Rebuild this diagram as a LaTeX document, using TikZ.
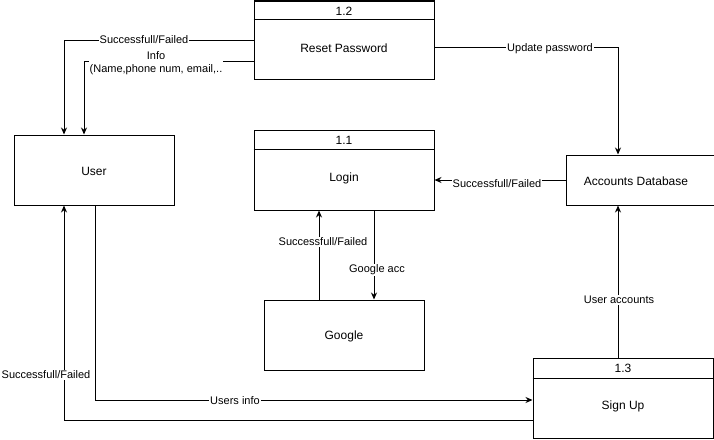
\documentclass[tikz,border=0pt]{standalone}
\usepackage{fontspec}
\setmainfont{Liberation Sans}
\usetikzlibrary{arrows.meta,calc}
\begin{document}
\begin{tikzpicture}[x=1pt,y=-1pt,
 box/.style={draw,line width=1pt,inner sep=0pt},
 divider/.style={draw,line width=1pt},
 flow/.style={draw,line width=1pt,-{Stealth[length=7pt,width=6pt]}},
 lbl/.style={fill=white,inner sep=1pt,font=\fontsize{11}{13}\selectfont,align=center},
 ttl/.style={font=\fontsize{12}{14}\selectfont}]
\useasboundingbox (0,0) rectangle (714,439);
% boxes
\node[box,minimum width=180pt,minimum height=78pt] (rp) at (344,40) {};
\draw[divider] ($(rp.north west)+(0,19)$) -- ($(rp.north east)+(0,19)$);
\node[ttl] (rpn) at ($(rp.north)+(0,11)$) {1.2};
\node[ttl] (rpt) at ($(rp.center)+(0,8)$) {Reset Password};

\node[box,minimum width=180pt,minimum height=80pt] (login) at (344,170) {};
\draw[divider] ($(login.north west)+(0,20)$) -- ($(login.north east)+(0,20)$);
\node[ttl] (loginn) at ($(login.north)+(0,11)$) {1.1};
\node[ttl] (logint) at ($(login.center)+(0,8)$) {Login};

\node[box,minimum width=180pt,minimum height=80pt] (signup) at (623,398) {};
\draw[divider] ($(signup.north west)+(0,21)$) -- ($(signup.north east)+(0,21)$);
\node[ttl] (signupn) at ($(signup.north)+(0,11)$) {1.3};
\node[ttl] (signupt) at ($(signup.center)+(0,8)$) {Sign Up};

\node[box,minimum width=160pt,minimum height=70pt] (user) at (94,170) {};
\node[ttl] (usert) at ($(user.center)+(0,1)$) {User};

\node[box,minimum width=160pt,minimum height=70pt] (google) at (344,335) {};
\node[ttl] (googlet) at ($(google.center)+(0,1)$) {Google};

\node[box,minimum width=160pt,minimum height=50pt] (db) at (646,180) {};
\node[ttl] (dbt) at (636,181) {Accounts Database};

% connectors
\draw[flow] (rp.west) -| ($(user.north)+(-30,0)$);
\draw[flow] ($(rp.south west)+(0,-18)$) -| ($(user.north)+(-10,0)$);
\draw[flow] ($(rp.east)+(0,7)$) -| ($(db.north)+(-28,0)$);
\draw[flow] (db.west) -- (db.west -| login.east);
\draw[flow] ($(google.north)+(-25,0)$) -- ($(login.south)+(-25,0)$);
\draw[flow] ($(login.south)+(30,0)$) -- ($(google.north)+(30,0)$);
\draw[flow] ($(signup.north)+(-5,0)$) -- ($(db.south)+(-28,0)$);
\draw[flow] ($(user.south)+(1,0)$) |- ($(signup.west)+(0,2)$);
\draw[flow] ($(signup.west)+(0,22)$) -| ($(user.south)+(-30,0)$);

% labels
\node[lbl] (l1) at (144,40) {Successfull/Failed};
\node[lbl] (l2) at (156,63) {Info\\(Name,phone num, email,..};
\node[lbl] (l3) at (550,49) {Update password};
\node[lbl] (l4) at (497,184) {Successfull/Failed};
\node[lbl] (l5) at (323,242) {Successfull/Failed};
\node[lbl] (l6) at (377,270) {Google acc};
\node[lbl] (l7) at (619,300) {User accounts};
\node[lbl] (l8) at (235,401) {Users info};
\node[lbl] (l9) at (46,375) {Successfull/Failed};
\end{tikzpicture}
\end{document}
